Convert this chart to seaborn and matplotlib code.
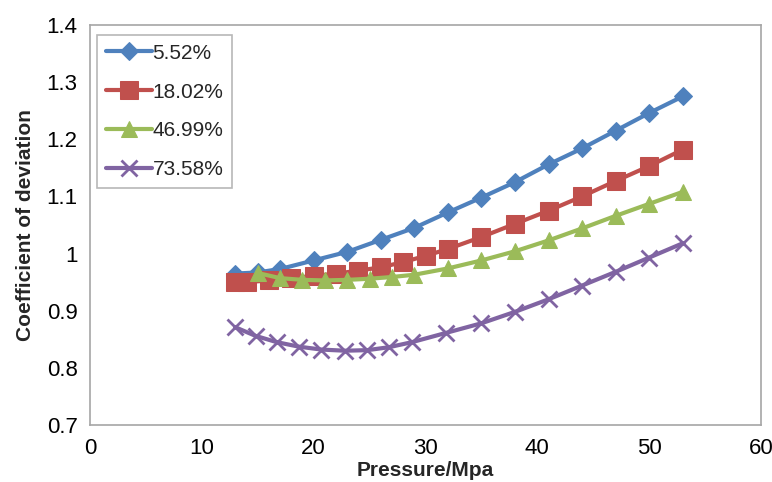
import matplotlib
matplotlib.use("Agg")
import matplotlib.pyplot as plt
import seaborn as sns
import pandas as pd
from matplotlib.ticker import FuncFormatter, MultipleLocator

sns.set_theme(style="white")
plt.rcParams['font.family'] = ['Liberation Sans', 'DejaVu Sans']

labels = ["5.52%", "18.02%", "46.99%", "73.58%"]

x_blue = [13, 15, 17, 20, 23, 26, 29, 32, 35, 38, 41, 44, 47, 50, 53]
y_blue = [0.965, 0.967, 0.973, 0.988, 1.003, 1.024, 1.045, 1.072, 1.098, 1.125, 1.156, 1.184, 1.215, 1.246, 1.275]

x_red = [13, 14, 16, 18, 20, 22, 24, 26, 28, 30, 32, 35, 38, 41, 44, 47, 50, 53]
y_red = [0.950, 0.950, 0.953, 0.957, 0.961, 0.965, 0.970, 0.976, 0.985, 0.996, 1.008, 1.029, 1.052, 1.075, 1.100, 1.127, 1.153, 1.182]

x_green = [15, 17, 19, 21, 23, 25, 27, 29, 32, 35, 38, 41, 44, 47, 50, 53]
y_green = [0.966, 0.957, 0.954, 0.953, 0.954, 0.956, 0.959, 0.963, 0.974, 0.988, 1.004, 1.023, 1.044, 1.066, 1.087, 1.108]

x_purple = [13, 14.8, 16.7, 18.7, 20.7, 22.8, 24.8, 26.7, 28.8, 31.8, 35, 38, 41, 44, 47, 50, 53]
y_purple = [0.871, 0.856, 0.845, 0.837, 0.832, 0.830, 0.831, 0.836, 0.845, 0.861, 0.878, 0.898, 0.920, 0.944, 0.968, 0.993, 1.018]

colors = ["#4F81BD", "#C0504D", "#9BBB59", "#8064A2"]
markers = ["D", "s", "^", "x"]
msizes = [9, 13, 12, 11]

fig = plt.figure(figsize=(7.72, 4.82), dpi=100)
ax = fig.add_axes([90/772, 1-425/482, (761-90)/772, 400/482])

series = [(x_blue, y_blue), (x_red, y_red), (x_green, y_green), (x_purple, y_purple)]
for (xs, ys), lab, c, m, ms in zip(series, labels, colors, markers, msizes):
    df = pd.DataFrame({"x": xs, "y": ys})
    kw = dict(markeredgecolor=c, markerfacecolor=c)
    if m == "x":
        kw["markeredgewidth"] = 2
    sns.lineplot(data=df, x="x", y="y", ax=ax, color=c, linewidth=3,
                 marker=m, markersize=ms, label=lab, sort=False, **kw)

ax.set_xlim(0, 60)
ax.set_ylim(0.7, 1.4)
ax.xaxis.set_major_locator(MultipleLocator(10))
ax.yaxis.set_major_locator(MultipleLocator(0.1))
ax.yaxis.set_major_formatter(FuncFormatter(lambda v, p: ("%.1f" % v).rstrip('0').rstrip('.')))

for s in ax.spines.values():
    s.set_color("#A6A6A6")
    s.set_linewidth(1.2)
    s.set_visible(True)
ax.tick_params(axis="both", which="major", direction="out", length=6, width=1.2,
               color="#A6A6A6", labelsize=16, labelcolor="black")
ax.tick_params(axis="x", pad=3)
ax.tick_params(axis="y", pad=3)
ax.grid(False)

ax.set_xlabel("Pressure/Mpa", fontsize=15, fontweight="bold", labelpad=2)
ax.set_ylabel("Coefficient of deviation", fontsize=15, fontweight="bold", labelpad=8)

leg = ax.legend(loc="upper left", bbox_to_anchor=(7/671, 1-10/400), frameon=True, fancybox=False,
                fontsize=15, handlelength=2.2, handletextpad=0.05, labelspacing=0.95,
                borderpad=0.42, borderaxespad=0)
leg.get_frame().set_edgecolor("#A6A6A6")
leg.get_frame().set_linewidth(1.2)

fig.savefig("out.png", dpi=100)
